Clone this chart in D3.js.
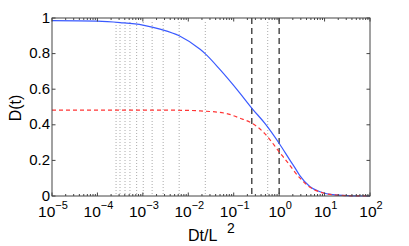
<!DOCTYPE html>
<html><head><meta charset="utf-8">
<script src="https://cdn.jsdelivr.net/npm/d3@7"></script>
<style>body{margin:0;background:#fff}svg{display:block}text{font-family:"Liberation Sans",Arial,sans-serif}</style>
</head><body>
<script>
// data (x in log10 units of Dt/L^2)
const blueLogX = [-5, -4.0, -3.5, -3.0, -2.6, -2.2, -1.74, -1.63, -1.30, -0.86, -0.59, -0.305, 0.01, 0.24, 0.356, 0.46, 0.68, 0.90, 1.23, 1.6, 2];
const blueY    = [0.985, 0.982, 0.974, 0.96, 0.936, 0.90, 0.824, 0.80, 0.71, 0.577, 0.49, 0.405, 0.292, 0.20, 0.155, 0.113, 0.052, 0.024, 0.006, 0.001, 0];
const redLogX  = [-5, -3, -2, -1.74, -1.19, -0.86, -0.59, -0.32, 0.01, 0.173, 0.46, 0.68, 0.90, 1.23, 1.6, 2];
const redY     = [0.483, 0.483, 0.481, 0.478, 0.465, 0.437, 0.408, 0.352, 0.245, 0.193, 0.10, 0.049, 0.022, 0.006, 0.001, 0];
const dottedX  = [2.57e-4, 3.14e-4, 4.05e-4, 5.2e-4, 7.3e-4, 1.02e-3, 1.6e-3, 2.8e-3, 6.3e-3, 0.0237, 0.56];
const dashedX  = [0.25, 1.0];
const xTickExp = [-5, -4, -3, -2, -1, 0, 1, 2];
const yTicks   = [0, 0.2, 0.4, 0.6, 0.8, 1];

const W = 409, H = 246;
const L = 52, R = 370, T = 18, B = 196;
const svg = d3.select("body").append("svg").attr("width", W).attr("height", H);
const x = d3.scaleLog().domain([1e-5, 1e2]).range([L, R]);
const y = d3.scaleLinear().domain([0, 1]).range([B, T]);
const axisCol = "#444";

// dotted lines
svg.selectAll(".dot").data(dottedX).enter().append("line")
  .attr("x1", d => x(d)).attr("x2", d => x(d)).attr("y1", T + 4).attr("y2", B - 2)
  .attr("stroke", "#aaa").attr("stroke-width", 1).attr("stroke-dasharray", "1,2");
// dashed lines
svg.selectAll(".dash").data(dashedX).enter().append("line")
  .attr("x1", d => x(d)).attr("x2", d => x(d)).attr("y1", T).attr("y2", B)
  .attr("stroke", "#333").attr("stroke-width", 1.3).attr("stroke-dasharray", "6,4");

const line = d3.line().x(d => x(Math.pow(10, d[0]))).y(d => y(d[1])).curve(d3.curveMonotoneX);
svg.append("path").datum(blueLogX.map((v, i) => [v, blueY[i]]))
  .attr("d", line).attr("fill", "none").attr("stroke", "#3a5aff").attr("stroke-width", 1.2);
svg.append("path").datum(redLogX.map((v, i) => [v, redY[i]]))
  .attr("d", line).attr("fill", "none").attr("stroke", "#ff3535").attr("stroke-width", 1.2)
  .attr("stroke-dasharray", "4,3");

// box
svg.append("rect").attr("x", L).attr("y", T).attr("width", R - L).attr("height", B - T)
  .attr("fill", "none").attr("stroke", axisCol).attr("stroke-width", 1);

// x ticks
const minor = [];
for (let e = -5; e < 2; e++) for (let k = 2; k <= 9; k++) minor.push(k * Math.pow(10, e));
const majors = xTickExp.map(e => Math.pow(10, e));
[[B, -1], [T, 1]].forEach(([yy, dir]) => {
  svg.append("g").selectAll("line").data(majors).enter().append("line")
    .attr("x1", d => x(d)).attr("x2", d => x(d)).attr("y1", yy).attr("y2", yy + dir * 3.5)
    .attr("stroke", axisCol);
  svg.append("g").selectAll("line").data(minor).enter().append("line")
    .attr("x1", d => x(d)).attr("x2", d => x(d)).attr("y1", yy).attr("y2", yy + dir * 2)
    .attr("stroke", axisCol);
});
// y ticks
[[L, 1], [R, -1]].forEach(([xx, dir]) => {
  svg.append("g").selectAll("line").data(yTicks).enter().append("line")
    .attr("x1", xx).attr("x2", xx + dir * 3.5).attr("y1", d => y(d)).attr("y2", d => y(d))
    .attr("stroke", axisCol);
});
// y tick labels
svg.append("g").selectAll("text").data(yTicks).enter().append("text")
  .attr("x", L - 2).attr("y", d => y(d) + 4.5).attr("text-anchor", "end")
  .attr("font-size", 15).text(d => d === 0 ? "0" : d === 1 ? "1" : d.toFixed(1));
// x tick labels
const xl = svg.append("g").selectAll("text").data(xTickExp).enter().append("text")
  .attr("x", d => x(Math.pow(10, d)) + 1).attr("y", B + 21).attr("text-anchor", "middle")
  .attr("font-size", 15.5);
xl.append("tspan").text("10");
xl.append("tspan").attr("dy", -8).attr("font-size", 11).text(d => String(d).replace("-", "\u2212"));

// axis labels
svg.append("text").attr("x", 188).attr("y", 241).attr("font-size", 16).text("Dt/L");
svg.append("text").attr("x", 227).attr("y", 233).attr("font-size", 14).text("2");
svg.append("text").attr("transform", "translate(21,108) rotate(-90)").attr("text-anchor", "middle")
  .attr("font-size", 16).text("D(t)");
</script>
</body></html>
